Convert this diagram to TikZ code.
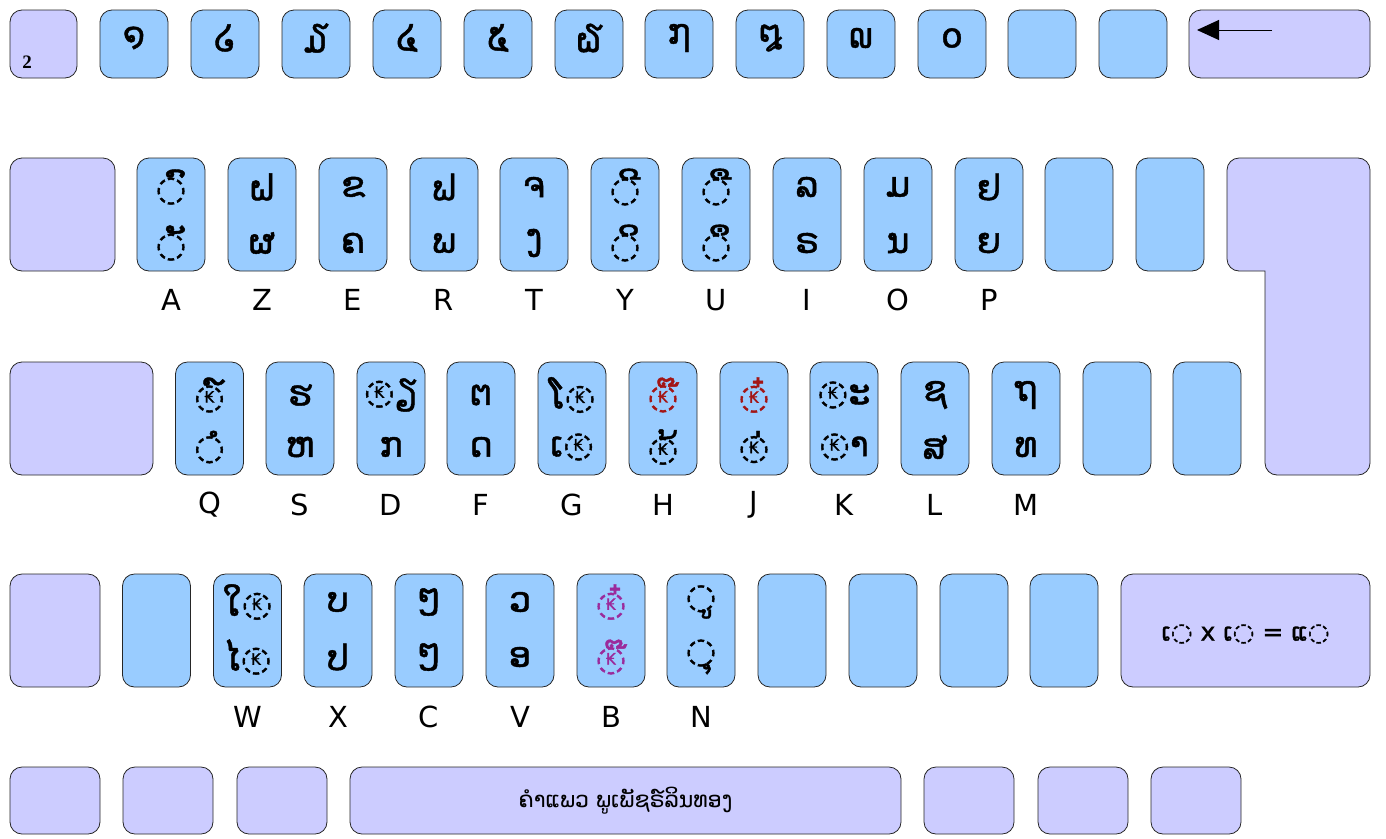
\documentclass[tikz,border=0pt]{standalone}
\usepackage{fontspec}
\usetikzlibrary{arrows.meta}
\newfontfamily\lao[Script=Lao]{DejaVu Sans}
\newfontfamily\laobold[Script=Lao, FakeBold=1.2]{DejaVu Sans}
\newfontfamily\lbl{DejaVu Sans}
\newfontfamily\numfont{Liberation Serif}
\definecolor{keyblue}{HTML}{99CCFF}
\definecolor{keylav}{HTML}{CCCCFF}
\definecolor{tonered}{HTML}{A31515}
\definecolor{tonepurple}{HTML}{9B2A9B}
\newlength\circw
\newlength\circh
\newlength\kiph
\newcommand\kipc[1]{\settowidth\circw{◌}\settoheight\circh{◌}\settoheight\kiph{\scalebox{0.45}{₭}}\makebox[0pt][l]{\makebox[\circw]{\raisebox{\dimexpr 0.5\circh-0.5\kiph\relax}{\scalebox{0.45}{₭}}}}◌#1}
\tikzset{
  keybase/.style={draw=black!85, line width=0.8pt, rounded corners=12pt, inner sep=0pt},
  bkey/.style={keybase, fill=keyblue},
  lkey/.style={keybase, fill=keylav},
  sqkey/.style={minimum width=68pt, minimum height=68pt},
  tallkey/.style={minimum width=68pt, minimum height=113pt},
  glyph/.style={font=\laobold\fontsize{35}{35}\selectfont, inner sep=0pt},
  letter/.style={font=\lbl\fontsize{29}{29}\selectfont, inner sep=0pt}
}
\begin{document}
\begin{tikzpicture}[x=1pt, y=-1pt]
  \useasboundingbox (0,0) rectangle (1386,838);
  \node[lkey, sqkey, minimum width=67pt] (kgrave) at (43.5,44) {};
  \node[font=\numfont\bfseries\fontsize{19}{19}\selectfont, inner sep=0pt] (ttwo) at (27,62) {2};
  \node[bkey, sqkey] (k1) at (134,44) {};
  \node[bkey, sqkey] (k2) at (225,44) {};
  \node[bkey, sqkey] (k3) at (316,44) {};
  \node[bkey, sqkey] (k4) at (407,44) {};
  \node[bkey, sqkey] (k5) at (498,44) {};
  \node[bkey, sqkey] (k6) at (589,44) {};
  \node[bkey, sqkey] (k7) at (679,44) {};
  \node[bkey, sqkey] (k8) at (770,44) {};
  \node[bkey, sqkey] (k9) at (861,44) {};
  \node[bkey, sqkey] (k0) at (952,44) {};
  \node[bkey, sqkey] (kminus) at (1042,44) {};
  \node[bkey, sqkey] (kequal) at (1133,44) {};
  \node[lkey, sqkey, minimum width=181pt] (kback) at (1279.5,44) {};
  \node[glyph] (d1) at (134,38) {໑};
  \node[glyph] (d2) at (225,38) {໒};
  \node[glyph] (d3) at (316,38) {໓};
  \node[glyph] (d4) at (407,38) {໔};
  \node[glyph] (d5) at (498,38) {໕};
  \node[glyph] (d6) at (589,38) {໖};
  \node[glyph] (d7) at (679,38) {໗};
  \node[glyph] (d8) at (770,38) {໘};
  \node[glyph] (d9) at (861,38) {໙};
  \node[glyph] (d0) at (952,38) {໐};
  \coordinate (backR) at (1272,30);
  \coordinate (backL) at (1197,30);
  \draw[line width=1pt, -{Triangle[length=22pt, width=20pt]}] (backR) -- (backL);

  \node[lkey, tallkey, minimum width=105pt] (ktab) at (62.5,214.5) {};
  \node[bkey, tallkey] (kA) at (171,214.5) {};
  \node[bkey, tallkey] (kZ) at (262,214.5) {};
  \node[bkey, tallkey] (kE) at (353,214.5) {};
  \node[bkey, tallkey] (kR) at (444,214.5) {};
  \node[bkey, tallkey] (kT) at (534,214.5) {};
  \node[bkey, tallkey] (kY) at (625,214.5) {};
  \node[bkey, tallkey] (kU) at (716,214.5) {};
  \node[bkey, tallkey] (kI) at (807,214.5) {};
  \node[bkey, tallkey] (kO) at (898,214.5) {};
  \node[bkey, tallkey] (kP) at (989,214.5) {};
  \node[bkey, tallkey] (kcaret) at (1079,214.5) {};
  \node[bkey, tallkey] (kdollar) at (1170,214.5) {};
  \draw[keybase, fill=keylav] (1227,158) -- (1370,158) -- (1370,475) -- (1265,475) [sharp corners] -- (1265,271) [rounded corners=12pt] -- (1227,271) -- cycle;
  \node[glyph] (tA) at (171,187) {◌ົ};
  \node[glyph] (bA) at (171,243) {◌ັ};
  \node[glyph] (tZ) at (262,187) {ຝ};
  \node[glyph] (bZ) at (262,243) {ຜ};
  \node[glyph] (tE) at (353,187) {ຂ};
  \node[glyph] (bE) at (353,243) {ຄ};
  \node[glyph] (tR) at (444,187) {ຟ};
  \node[glyph] (bR) at (444,243) {ພ};
  \node[glyph] (tT) at (534,187) {ຈ};
  \node[glyph] (bT) at (534,243) {ງ};
  \node[glyph] (tY) at (625,187) {◌ີ};
  \node[glyph] (bY) at (625,243) {◌ິ};
  \node[glyph] (tU) at (716,187) {◌ື};
  \node[glyph] (bU) at (716,243) {◌ຶ};
  \node[glyph] (tI) at (807,187) {ລ};
  \node[glyph] (bI) at (807,243) {ຣ};
  \node[glyph] (tO) at (898,187) {ມ};
  \node[glyph] (bO) at (898,243) {ນ};
  \node[glyph] (tP) at (989,187) {ຢ};
  \node[glyph] (bP) at (989,243) {ຍ};
  \node[letter] (lA) at (171,300) {A};
  \node[letter] (lZ) at (262,300) {Z};
  \node[letter] (lE) at (353,300) {E};
  \node[letter] (lR) at (444,300) {R};
  \node[letter] (lT) at (534,300) {T};
  \node[letter] (lY) at (625,300) {Y};
  \node[letter] (lU) at (716,300) {U};
  \node[letter] (lI) at (807,300) {I};
  \node[letter] (lO) at (898,300) {O};
  \node[letter] (lP) at (989,300) {P};

  \node[lkey, tallkey, minimum width=143pt] (kcaps) at (81.5,418.5) {};
  \node[bkey, tallkey] (kQ) at (209.5,418.5) {};
  \node[bkey, tallkey] (kS) at (300,418.5) {};
  \node[bkey, tallkey] (kD) at (391,418.5) {};
  \node[bkey, tallkey] (kF) at (481,418.5) {};
  \node[bkey, tallkey] (kG) at (572,418.5) {};
  \node[bkey, tallkey] (kH) at (663,418.5) {};
  \node[bkey, tallkey] (kJ) at (754,418.5) {};
  \node[bkey, tallkey] (kK) at (844,418.5) {};
  \node[bkey, tallkey] (kL) at (935,418.5) {};
  \node[bkey, tallkey] (kM) at (1026,418.5) {};
  \node[bkey, tallkey] (kpercent) at (1117,418.5) {};
  \node[bkey, tallkey] (kstar) at (1207,418.5) {};
  \node[glyph] (tQ) at (209.5,395) {\kipc{໌}};
  \node[glyph] (bQ) at (209.5,447) {◌ໍ};
  \node[glyph] (tS) at (300,395) {ຮ};
  \node[glyph] (bS) at (300,447) {ຫ};
  \node[glyph] (tD) at (391,395) {\kipc{ຽ}};
  \node[glyph] (bD) at (391,447) {ກ};
  \node[glyph] (tF) at (481,395) {ຕ};
  \node[glyph] (bF) at (481,447) {ດ};
  \node[glyph] (tG) at (572,395) {ໂ\kipc{}};
  \node[glyph] (bG) at (572,447) {ເ\kipc{}};
  \node[glyph, text=tonered] (tH) at (663,395) {\kipc{໊}};
  \node[glyph] (bH) at (663,447) {\kipc{້}};
  \node[glyph, text=tonered] (tJ) at (754,395) {\kipc{໋}};
  \node[glyph] (bJ) at (754,447) {\kipc{່}};
  \node[glyph] (tK) at (844,395) {\kipc{ະ}};
  \node[glyph] (bK) at (844,447) {\kipc{າ}};
  \node[glyph] (tL) at (935,395) {ຊ};
  \node[glyph] (bL) at (935,447) {ສ};
  \node[glyph] (tM) at (1026,395) {ຖ};
  \node[glyph] (bM) at (1026,447) {ທ};
  \node[letter] (lQ) at (209.5,505) {Q};
  \node[letter] (lS) at (300,505) {S};
  \node[letter] (lD) at (391,505) {D};
  \node[letter] (lF) at (481,505) {F};
  \node[letter] (lG) at (572,505) {G};
  \node[letter] (lH) at (663,505) {H};
  \node[letter] (lJ) at (754,505) {J};
  \node[letter] (lK) at (844,505) {K};
  \node[letter] (lL) at (935,505) {L};
  \node[letter] (lM) at (1026,505) {M};

  \node[lkey, tallkey, minimum width=90pt] (kshiftL) at (55,630.5) {};
  \node[bkey, tallkey] (kless) at (156.5,630.5) {};
  \node[bkey, tallkey] (kW) at (247.5,630.5) {};
  \node[bkey, tallkey] (kX) at (338,630.5) {};
  \node[bkey, tallkey] (kC) at (429,630.5) {};
  \node[bkey, tallkey] (kV) at (520,630.5) {};
  \node[bkey, tallkey] (kB) at (611,630.5) {};
  \node[bkey, tallkey] (kN) at (701,630.5) {};
  \node[bkey, tallkey] (kcomma) at (792,630.5) {};
  \node[bkey, tallkey] (ksemi) at (883,630.5) {};
  \node[bkey, tallkey] (kcolon) at (974,630.5) {};
  \node[bkey, tallkey] (kexcl) at (1064,630.5) {};
  \node[lkey, tallkey, minimum width=249pt] (kshiftR) at (1245.5,630.5) {};
  \node[glyph, font=\laobold\fontsize{25}{25}\selectfont] (tshift) at (1245.5,634) {ເ◌ x ເ◌ = ແ◌};
  \node[glyph] (tW) at (247.5,602) {ໃ\kipc{}};
  \node[glyph] (bW) at (247.5,657) {ໄ\kipc{}};
  \node[glyph] (tX) at (338,602) {ບ};
  \node[glyph] (bX) at (338,657) {ປ};
  \node[glyph] (tC) at (429,602) {ໆ};
  \node[glyph] (bC) at (429,657) {ໆ};
  \node[glyph] (tV) at (520,602) {ວ};
  \node[glyph] (bV) at (520,657) {ອ};
  \node[glyph, text=tonepurple] (tB) at (611,602) {\kipc{໋}};
  \node[glyph, text=tonepurple] (bB) at (611,657) {\kipc{໊}};
  \node[glyph] (tN) at (701,602) {◌ູ};
  \node[glyph] (bN) at (701,657) {◌ຸ};
  \node[letter] (lW) at (247.5,717) {W};
  \node[letter] (lX) at (338,717) {X};
  \node[letter] (lC) at (429,717) {C};
  \node[letter] (lV) at (520,717) {V};
  \node[letter] (lB) at (611,717) {B};
  \node[letter] (lN) at (701,717) {N};

  \node[lkey, sqkey, minimum width=90pt, minimum height=67pt] (kctrlL) at (55,800.5) {};
  \node[lkey, sqkey, minimum width=90pt, minimum height=67pt] (kfn) at (168,800.5) {};
  \node[lkey, sqkey, minimum width=90pt, minimum height=67pt] (kalt) at (282,800.5) {};
  \node[lkey, sqkey, minimum width=551pt, minimum height=67pt] (kspace) at (625.5,800.5) {};
  \node[lkey, sqkey, minimum width=90pt, minimum height=67pt] (kaltgr) at (969,800.5) {};
  \node[lkey, sqkey, minimum width=90pt, minimum height=67pt] (kmenu) at (1083,800.5) {};
  \node[lkey, sqkey, minimum width=90pt, minimum height=67pt] (kctrlR) at (1196,800.5) {};
  \node[glyph, font=\lao\fontsize{22}{22}\selectfont] (tspace) at (625.5,801) {ຄຳແພວ ພູເພັຊຣ໌ລິນທອງ};
\end{tikzpicture}
\end{document}
